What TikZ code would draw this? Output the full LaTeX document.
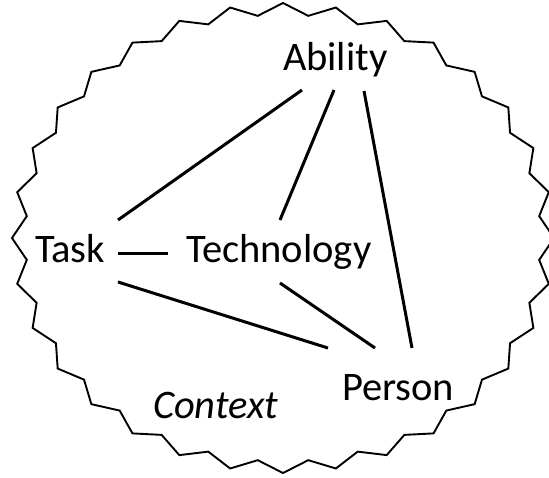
\documentclass[tikz,border=0pt]{standalone}
\usepackage{fontspec}
\setmainfont{Carlito}
\usetikzlibrary{calc}
\tikzset{
  lbl/.style={anchor=base west, inner sep=0pt, outer sep=0pt, font=\fontsize{40.5}{48}\selectfont},
  conn/.style={line width=3pt, line cap=butt},
  seal/.style={line width=1.9pt, line join=miter}
}
\begin{document}
\begin{tikzpicture}[x=1pt,y=-1pt]
\useasboundingbox (0,0) rectangle (549,477);
\begin{scope}
\clip (0,0) rectangle (549,477);
\draw[seal] (283,3)
  \foreach \k [evaluate=\k as \r using {ifthenelse(mod(\k,2)==0,1,0.95)}] in {1,...,63} {
    -- ({283+271*\r*sin(\k*5.625)}, {238-235*\r*cos(\k*5.625)})
  } -- cycle;
\end{scope}
\node[lbl] (abil) at (283,70) {Ability};
\node[lbl] (task) at (35,262) {Task};
\node[lbl] (tech) at (186,262) {Technology};
\node[lbl] (pers) at (342,400) {Person};
\node[lbl, font=\fontsize{40.5}{48}\selectfont\itshape] (ctx) at (153,418) {Context};
\draw[conn] ($(task.base west)+(83,-42)$) -- ($(abil.base west)+(19,20)$);
\draw[conn] ($(tech.base west)+(94,-42)$) -- ($(abil.base west)+(51,20)$);
\draw[conn] ($(pers.base west)+(70,-52)$) -- ($(abil.base west)+(81,21)$);
\draw[conn] ($(task.base west)+(83,-9)$) -- ($(tech.base west)+(-18,-9)$);
\draw[conn] ($(task.base west)+(83,20)$) -- ($(pers.base west)+(-14,-52)$);
\draw[conn] ($(tech.base west)+(94,21)$) -- ($(pers.base west)+(33,-52)$);
\end{tikzpicture}
\end{document}
